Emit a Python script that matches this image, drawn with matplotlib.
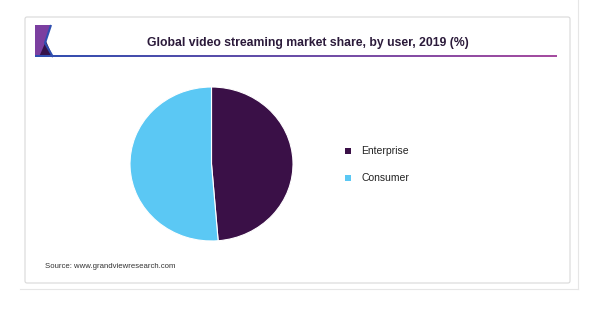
import matplotlib.pyplot as plt
import numpy as np
from matplotlib.patches import Polygon, FancyBboxPatch, Rectangle
from matplotlib.colors import LinearSegmentedColormap

labels = ['Enterprise', 'Consumer']
shares = [48.7, 51.3]
colors = ['#3a1047', '#5bc8f4']

title = 'Global video streaming market share, by user, 2019 (%)'
source = 'Source: www.grandviewresearch.com'

plt.rcParams['font.family'] = ['Liberation Sans', 'DejaVu Sans']

W, H = 600, 325
fig = plt.figure(figsize=(6, 3.25), dpi=100)
fig.patch.set_facecolor('white')

# background layer in pixel coordinates (y down)
bg = fig.add_axes([0, 0, 1, 1])
bg.axis('off')

# outer panel edges
bg.plot([20, 578], [289, 289], color='#e6e6e6', lw=0.8)
bg.plot([578, 578], [0, 289], color='#e6e6e6', lw=0.8)

# card
card = FancyBboxPatch((25, 17), 545, 266, boxstyle='round,pad=0,rounding_size=2',
                      facecolor='white', edgecolor='#d9d9d9', lw=0.8)
bg.add_patch(card)

# logo
bg.add_patch(Polygon([(35, 25), (51, 25), (45, 43), (53, 57), (35, 57)],
                     closed=True, facecolor='#7b3fa0', edgecolor='none'))
bg.add_patch(Polygon([(39, 57), (46, 41), (53, 57)], closed=True,
                     facecolor='#35124a', edgecolor='none'))
bg.plot([51, 45, 53], [25, 43, 57], color='#2f4fb0', lw=1.5, solid_capstyle='butt')

# gradient rule under the title
grad = np.linspace(0, 1, 256).reshape(1, -1)
cmap = LinearSegmentedColormap.from_list('rule', ['#2f4fb0', '#a64ca0'])
bg.imshow(grad, cmap=cmap, extent=[35, 557, 57, 55.5], aspect='auto', zorder=3)
bg.set_xlim(0, W)
bg.set_ylim(H, 0)

bg.text(308, 43, title, ha='center', va='center', fontsize=8.8,
        fontweight='bold', color='#2b1a3a')
bg.text(45, 267, source, ha='left', va='center', fontsize=5.6, color='#333333')

# legend
for i, (lab, col) in enumerate(zip(labels, colors)):
    y = 151 + i * 27
    bg.add_patch(Rectangle((345, y - 3), 6, 6, facecolor=col, edgecolor='none'))
    bg.text(361, y, lab, ha='left', va='center', fontsize=7.5, color='#222222')

# pie
cx, cy, rx, ry = 211.5, 164, 81.5, 77
ax = fig.add_axes([(cx - rx) / W, (H - cy - ry) / H, 2 * rx / W, 2 * ry / H])
ax.pie(shares, colors=colors, startangle=90, counterclock=False,
       wedgeprops=dict(edgecolor='white', linewidth=0.8))
ax.set_aspect('auto')
ax.set_xlim(-1, 1)
ax.set_ylim(-1, 1)
ax.axis('off')

fig.savefig('out.png', dpi=100)
